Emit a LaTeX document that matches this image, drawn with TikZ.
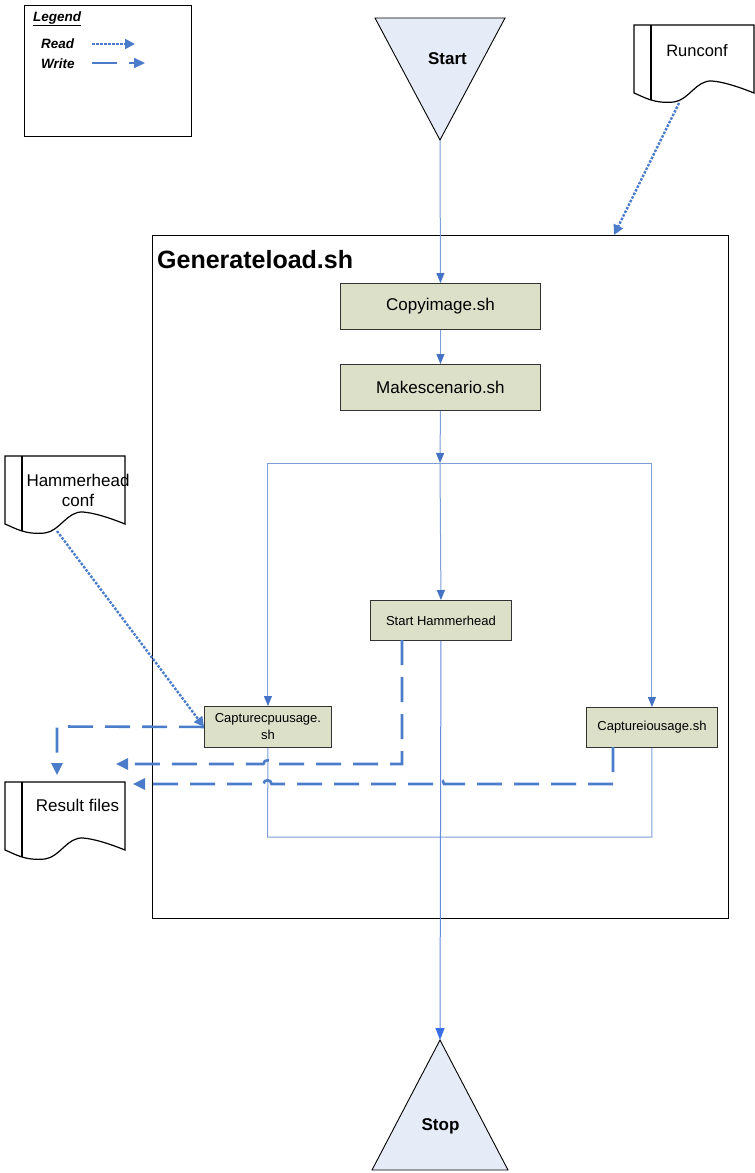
\documentclass[tikz,border=0pt]{standalone}
\usepackage{fontspec}
\setmainfont{Liberation Sans}
\usetikzlibrary{arrows.meta}

\definecolor{boxfill}{HTML}{DDE0C9}
\definecolor{trifill}{HTML}{E5EBF7}
\definecolor{flowline}{HTML}{7D9DD8}
\definecolor{tipblue}{HTML}{4472C4}
\definecolor{iolink}{HTML}{4A7CC9}
\definecolor{stopblue}{HTML}{3A6EE6}

\tikzset{
  stepbox/.style={draw=black!80, line width=0.9pt, fill=boxfill, inner sep=0pt,
    anchor=north west, align=center},
  bigfont/.style={font=\fontsize{17}{20}\selectfont},
  smallfont/.style={font=\fontsize{13}{17}\selectfont},
  flow/.style={draw=flowline, line width=1pt,
    -{Triangle[length=10pt,width=8pt,color=tipblue]}},
  plainflow/.style={draw=flowline, line width=1pt},
  stopflow/.style={draw=flowline!60!stopblue, line width=1pt,
    -{Triangle[length=12pt,width=9pt,color=stopblue]}},
  writeflow/.style={draw=iolink, line width=2.6pt, dash pattern=on 25pt off 12pt,
    -{Triangle[length=12pt,width=11pt,color=iolink]}},
  readflow/.style={draw=iolink, line width=2.4pt, dash pattern=on 2.5pt off 1.5pt,
    -{Triangle[length=10pt,width=10pt,color=iolink]}},
  docline/.style={draw=black, line width=1.2pt},
}

% document symbol with a wavy bottom edge, placed by its top-left corner
\newcommand\docsymbol[2]{%
  \begin{scope}[shift={(#1,#2)}]
    \draw[docline, fill=white] (0,0) -- (120,0) -- (120,68)
      .. controls (105,62) and (90,57) .. (78,56)
      .. controls (62,55) and (55,75) .. (40,77)
      .. controls (20,79) and (10,72) .. (0,68) -- cycle;
    \draw[docline] (17,0) -- (17,74.7);
  \end{scope}}

\begin{document}
\begin{tikzpicture}[x=1pt,y=-1pt]
\useasboundingbox (0,0) rectangle (755,1173);

% legend
\node[draw=black, line width=1pt, minimum width=167pt, minimum height=131pt,
  anchor=north west, inner sep=0pt] (legend) at (24,5) {};
\node[anchor=west, inner sep=0pt, font=\fontsize{13.5}{15}\selectfont\bfseries\itshape]
  (legtitle) at (33,19) {\underline{Legend}};
\node[anchor=west, inner sep=0pt, font=\fontsize{13.5}{15}\selectfont\bfseries\itshape]
  (legread) at (41,44) {Read};
\node[anchor=west, inner sep=0pt, font=\fontsize{13.5}{15}\selectfont\bfseries\itshape]
  (legwrite) at (41,64) {Write};
\coordinate (rdA) at (92,44);
\coordinate (rdB) at (135,44);
\coordinate (wrA) at (92,63);
\coordinate (wrB) at (145,63);
\draw[readflow, line width=2pt] (rdA) -- (rdB);
\draw[writeflow, line width=2pt, -{Triangle[length=11pt,width=10pt,color=iolink]}] (wrA) -- (wrB);

% start and stop terminals
\coordinate (startL) at (375,18);
\coordinate (startR) at (505,18);
\coordinate (startapex) at (440,140);
\draw[black, line width=0.9pt, fill=trifill] (startL) -- (startR) -- (startapex) -- cycle;
\node[font=\fontsize{17}{20}\selectfont\bfseries] (start) at (447.5,59) {Start};

\coordinate (stopapex) at (440,1040);
\coordinate (stopL) at (372,1170);
\coordinate (stopR) at (508,1170);
\draw[black, line width=0.9pt, fill=trifill] (stopapex) -- (stopR) -- (stopL) -- cycle;
\node[font=\fontsize{17}{20}\selectfont\bfseries] (stop) at (440.5,1126) {Stop};

% main script container
\node[draw=black, line width=1.2pt, minimum width=576pt, minimum height=683pt,
  anchor=north west, inner sep=0pt] (gen) at (152,235) {};
\node[anchor=west, inner sep=0pt, font=\fontsize{25}{29}\selectfont\bfseries]
  (gentitle) at (157,260) {Generateload.sh};

% steps
\node[stepbox, bigfont, minimum width=200pt, minimum height=46pt] (copy) at (340,283) {Copyimage.sh};
\node[stepbox, bigfont, minimum width=200pt, minimum height=46pt] (make) at (340,364) {Makescenario.sh};
\node[stepbox, smallfont, minimum width=141pt, minimum height=40pt] (hh) at (370,600) {Start Hammerhead};
\node[stepbox, smallfont, minimum width=127pt, minimum height=41pt] (cpu) at (204,706) {Capturecpuusage.\\sh};
\node[stepbox, smallfont, minimum width=131pt, minimum height=40pt] (io) at (586,707) {Captureiousage.sh};

% documents
\docsymbol{634}{25}
\node[font=\fontsize{16.5}{20}\selectfont, inner sep=0pt] (runconf) at (697,51) {Runconf};
\docsymbol{5}{456}
\node[font=\fontsize{17}{20}\selectfont, inner sep=0pt, align=center] (hhconf) at (78,490) {Hammerhead\\conf};
\docsymbol{5}{782}
\node[font=\fontsize{17}{20}\selectfont, inner sep=0pt] (results) at (77.5,805) {Result files};

% control flow
\coordinate (fork) at (440,463);
\coordinate (forkL) at (cpu.north |- fork);
\coordinate (forkR) at (io.north |- fork);
\coordinate (joinL) at (267.5,837);
\coordinate (joinR) at (io.south |- joinL);
\draw[flow] (startapex) -- (copy.north);
\draw[flow] (copy.south) -- (make.north);
\draw[flow] (make.south) -- (fork);
\draw[plainflow] (forkL) -- (forkR);
\draw[flow] (forkL) -- (cpu.north);
\draw[flow] (forkR) -- (io.north);
\draw[flow] (fork) -- (hh.north);
\draw[plainflow] (cpu.south) -- (joinL) -- (joinR) -- (io.south);
\draw[stopflow] (hh.south) -- (stopapex);

% reads
\coordinate (runout) at (679,103);
\coordinate (genin) at (614,235);
\draw[readflow] (runout) -- (genin);
\coordinate (hcout) at (57,531);
\draw[readflow] (hcout) -- (cpu.west);

% writes
\coordinate (cputurn) at (57,726.5);
\coordinate (resA) at (57,775);
\draw[writeflow] (cpu.west) -- (cputurn) -- (resA);

\coordinate (hhout) at (402,640);
\coordinate (hhturn) at (402,764);
\coordinate (resB) at (116,764);
\draw[writeflow] (hhout) -- (hhturn) -- (271.5,764)
  .. controls (271.5,759) and (263.5,759) .. (263.5,764) -- (resB);

\coordinate (ioout) at (613,747);
\coordinate (ioturn) at (613,784);
\coordinate (resC) at (133,784);
\draw[writeflow] (ioout) -- (ioturn) -- (444,784)
  .. controls (444,778) and (436,778) .. (436,784) -- (271.5,784)
  .. controls (271.5,779) and (263.5,779) .. (263.5,784) -- (resC);
\end{tikzpicture}
\end{document}
